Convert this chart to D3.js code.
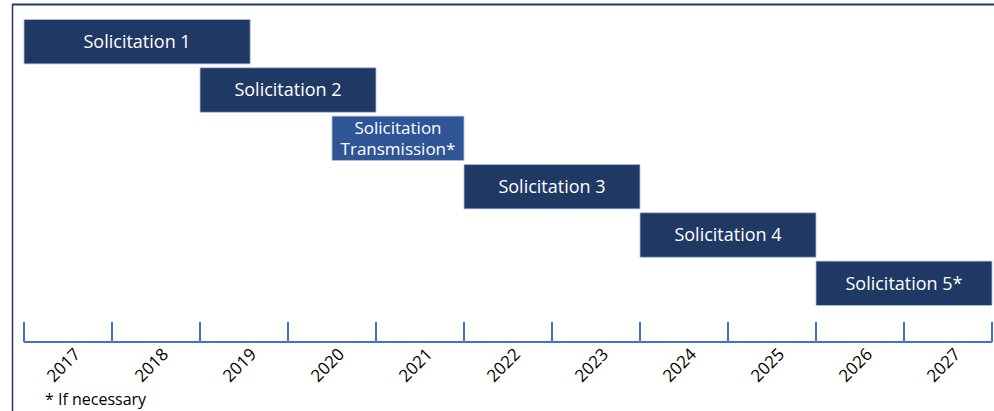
<!DOCTYPE html>
<html>
<head>
<meta charset="utf-8">
<script src="https://cdn.jsdelivr.net/npm/d3@7"></script>
<style>
  body { margin: 0; background: #fff; }
  text { font-family: "Open Sans", "Noto Sans", sans-serif; }
</style>
</head>
<body>
<div id="chart"></div>
<script>
// timeline data
var tasks = ["Solicitation 1", "Solicitation 2", "Solicitation Transmission*", "Solicitation 3", "Solicitation 4", "Solicitation 5*"];
var starts = [2017, 2019, 2020.5, 2022, 2024, 2026];
var ends = [2019.57, 2021, 2022, 2024, 2026, 2028];
var optional = [false, false, true, false, false, false];
var years = [2017, 2018, 2019, 2020, 2021, 2022, 2023, 2024, 2025, 2026, 2027];

var width = 994;
var height = 411;

var svg = d3.select("#chart")
	.append("svg")
	.attr("width", width)
	.attr("height", height);

// frame
svg.append("line")
	.attr("x1", 12).attr("y1", 4.5).attr("x2", width).attr("y2", 4.5)
	.style("stroke", "#1f3864").style("stroke-width", 2);
svg.append("line")
	.attr("x1", 12.5).attr("y1", 4).attr("x2", 12.5).attr("y2", height)
	.style("stroke", "#1f3864").style("stroke-width", 1.5);

var x = d3.scaleLinear()
	.domain([2017, 2028])
	.range([24, 992]);

var y = d3.scaleBand()
	.domain(tasks)
	.range([18, 307])
	.paddingInner(0.08)
	.paddingOuter(0.03);

var rows = tasks.map(function(d, i) {
	return { name: d, start: starts[i], end: ends[i], opt: optional[i] };
});

var bar = svg.selectAll(".bar")
	.data(rows)
	.enter().append("g")
	.attr("class", "bar");

bar.append("rect")
	.attr("x", function(d) { return x(d.start); })
	.attr("y", function(d) { return y(d.name); })
	.attr("width", function(d) { return x(d.end) - x(d.start); })
	.attr("height", y.bandwidth())
	.style("fill", function(d) { return d.opt ? "#2f5597" : "#203864"; })
	.style("stroke", "#b4c3dc")
	.style("stroke-width", 0.8);

bar.each(function(d) {
	var g = d3.select(this);
	var cx = (x(d.start) + x(d.end)) / 2;
	var cy = y(d.name) + y.bandwidth() / 2;
	var lines = d.opt ? ["Solicitation", "Transmission*"] : [d.name];
	var lh = 21;
	lines.forEach(function(t, i) {
		g.append("text")
			.attr("x", cx)
			.attr("y", cy + (i - (lines.length - 1) / 2) * lh)
			.attr("dy", "0.35em")
			.attr("text-anchor", "middle")
			.style("fill", "white")
			.style("font-size", d.opt ? "17px" : "18px")
			.text(t);
	});
});

// year axis
var axisY = 342;
var axis = svg.append("g");

axis.append("line")
	.attr("x1", x(2017)).attr("x2", x(2028))
	.attr("y1", axisY).attr("y2", axisY)
	.style("stroke", "#4472c4").style("stroke-width", 2);

axis.selectAll(".tick")
	.data(years.concat([2028]))
	.enter().append("line")
	.attr("class", "tick")
	.attr("x1", function(d) { return x(d); })
	.attr("x2", function(d) { return x(d); })
	.attr("y1", axisY - 20)
	.attr("y2", axisY)
	.style("stroke", "#4472c4").style("stroke-width", 2);

axis.selectAll(".year")
	.data(years)
	.enter().append("text")
	.attr("class", "year")
	.attr("text-anchor", "end")
	.attr("transform", function(d) {
		return "translate(" + (x(d + 0.5) + 5) + "," + (axisY + 5) + ") rotate(-45)";
	})
	.attr("dy", "0.7em")
	.style("font-size", "17px")
	.style("fill", "#000")
	.text(function(d) { return d; });

svg.append("text")
	.attr("x", 45)
	.attr("y", 405)
	.style("font-size", "16px")
	.style("fill", "#000")
	.text("* If necessary");
</script>
</body>
</html>
